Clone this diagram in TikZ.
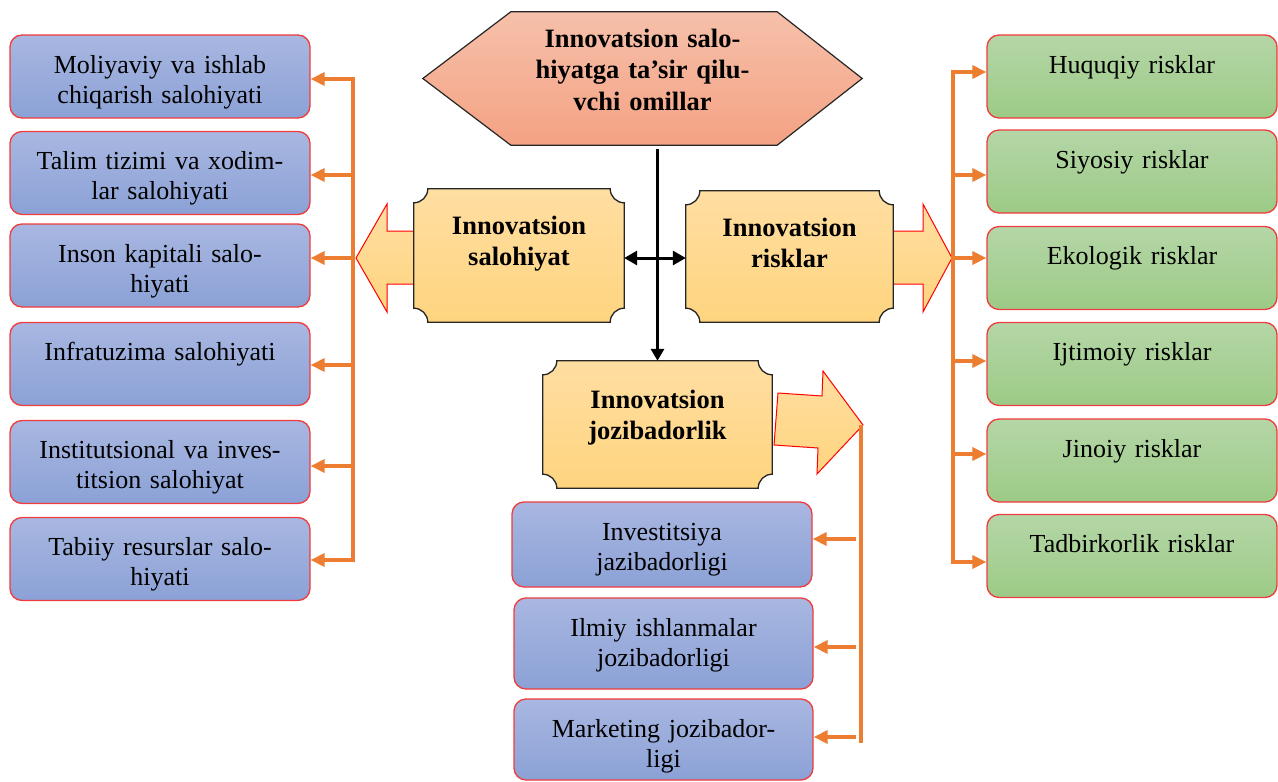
\documentclass[tikz,border=0pt]{standalone}
\usepackage{fontspec}
\setmainfont{Liberation Serif}
\usetikzlibrary{arrows.meta}
\pgfdeclarelayer{background}
\pgfsetlayers{background,main}
\definecolor{blueT}{HTML}{A9B7E1}
\definecolor{blueB}{HTML}{8BA1D6}
\definecolor{greenT}{HTML}{B5D6A7}
\definecolor{greenB}{HTML}{9CCB86}
\definecolor{goldT}{HTML}{FFDEA2}
\definecolor{goldB}{HTML}{FED47E}
\definecolor{salT}{HTML}{F6C0AA}
\definecolor{salB}{HTML}{F4A283}
\definecolor{oline}{HTML}{ED7D31}
\definecolor{bred}{HTML}{F03C3C}
\definecolor{dgray}{HTML}{262626}
\newcommand\regfont{\fontsize{26}{30}\selectfont}
\newcommand\bldfont{\fontsize{26.5}{31.5}\selectfont\bfseries}
\newcommand\plaqueshape[1]{%
 \path[plaquefill] ([xshift=14pt]#1.north west) -- ([xshift=-14pt]#1.north east)
 .. controls ([xshift=-14pt,yshift=-7.7pt]#1.north east) and ([xshift=-7.7pt,yshift=-14pt]#1.north east) .. ([yshift=-14pt]#1.north east)
 -- ([yshift=14pt]#1.south east)
 .. controls ([xshift=-7.7pt,yshift=14pt]#1.south east) and ([xshift=-14pt,yshift=7.7pt]#1.south east) .. ([xshift=-14pt]#1.south east)
 -- ([xshift=14pt]#1.south west)
 .. controls ([xshift=14pt,yshift=7.7pt]#1.south west) and ([xshift=7.7pt,yshift=14pt]#1.south west) .. ([yshift=14pt]#1.south west)
 -- ([yshift=-14pt]#1.north west)
 .. controls ([xshift=7.7pt,yshift=-14pt]#1.north west) and ([xshift=14pt,yshift=-7.7pt]#1.north west) .. cycle;}
\tikzset{
 box/.style={draw=bred, line width=1.3pt, rounded corners=12pt, inner sep=0pt, align=center, text height=38pt, text depth=45pt, font=\regfont},
 bluebox/.style={box, top color=blueT, bottom color=blueB, text width=300pt},
 greenbox/.style={box, top color=greenT, bottom color=greenB, text width=290pt},
 plaquetext/.style={inner sep=0pt, align=center, font=\bldfont},
 plaquefill/.style={draw=dgray, line width=1.3pt, top color=goldT, bottom color=goldB},
 hexfill/.style={draw=dgray, line width=1.2pt, top color=salT, bottom color=salB},
 blockarrow/.style={draw=red, line width=1pt, top color=goldT, bottom color=goldB},
 oconn/.style={draw=oline, line width=4pt},
 oarrow/.style={oconn, -{Triangle[length=14pt,width=13pt]}},
 bconn/.style={draw=black, line width=3pt},
}
\begin{document}
\begin{tikzpicture}[x=1pt,y=-1pt]
\useasboundingbox (0,0) rectangle (1278,782);
% centre nodes
\node[plaquetext, text width=439pt, text height=35pt, text depth=98pt] (top) at (642.5,78.5) {Innovatsion salo-\\hiyatga ta’sir qilu-\\vchi omillar};
\node[plaquetext, text width=210pt, text height=45pt, text depth=88pt] (ps) at (519,255.5) {Innovatsion\\salohiyat};
\node[plaquetext, text width=207pt, text height=45pt, text depth=86pt] (pr) at (789.5,256.5) {Innovatsion\\risklar};
\node[plaquetext, text width=229pt, text height=47pt, text depth=80pt] (jz) at (657.5,424.5) {Innovatsion\\jozibadorlik};
% left boxes
\node[bluebox] (m1) at (160,76.5) {Moliyaviy va ishlab\\chiqarish salohiyati};
\node[bluebox] (m2) at (160,173) {Talim tizimi va xodim-\\lar salohiyati};
\node[bluebox] (m3) at (160,265.5) {Inson kapitali salo-\\hiyati};
\node[bluebox] (m4) at (160,364) {Infratuzima salohiyati};
\node[bluebox] (m5) at (160,462) {Institutsional va inves-\\titsion salohiyat};
\node[bluebox] (m6) at (160,559) {Tabiiy resurslar salo-\\hiyati};
% right boxes
\node[greenbox] (r1) at (1132,76.5) {Huquqiy risklar};
\node[greenbox] (r2) at (1132,171.5) {Siyosiy risklar};
\node[greenbox] (r3) at (1132,268) {Ekologik risklar};
\node[greenbox] (r4) at (1132,364) {Ijtimoiy risklar};
\node[greenbox] (r5) at (1132,460.5) {Jinoiy risklar};
\node[greenbox] (r6) at (1132,556) {Tadbirkorlik risklar};
% bottom boxes
\node[bluebox, text depth=47pt] (b1) at (662,544.5) {Investitsiya\\jazibadorligi};
\node[bluebox, text width=299pt, text depth=53pt] (b2) at (663.5,643.5) {Ilmiy ishlanmalar\\jozibadorligi};
\node[bluebox, text width=299pt, text depth=43pt] (b3) at (663.5,739.5) {Marketing jozibador-\\ligi};
% background shapes
\begin{pgfonlayer}{background}
\path[blockarrow] (356,258) -- (387,204) -- (387,231) -- (417,231) -- (417,284) -- (387,284) -- (387,312) -- cycle;
\path[blockarrow] (893,231) -- (923,231) -- (923,204) -- (952,258) -- (923,312) -- (923,284) -- (893,284) -- cycle;
\path[blockarrow] (778,393) -- (822,396) -- (823,371) -- (863,425) -- (817,474) -- (818,448) -- (774,445) -- cycle;
\path[hexfill] (top.west) -- ([xshift=88pt]top.north west) -- ([xshift=-85pt]top.north east) -- (top.east) -- ([xshift=-85pt]top.south east) -- ([xshift=88pt]top.south west) -- cycle;
\plaqueshape{ps}
\plaqueshape{pr}
\plaqueshape{jz}
\end{pgfonlayer}
% black connectors
\draw[bconn, -{Triangle[length=12pt,width=13pt]}] ([yshift=-4pt]top.south -| jz.north) -- (jz.north);
\draw[bconn, {Triangle[length=13pt,width=14pt]}-{Triangle[length=13pt,width=14pt]}] ([yshift=-2.5pt]ps.east) -- ([yshift=-2.5pt]ps.east -| pr.west);
% left trunk
\coordinate (lt1) at (353,79);
\coordinate (lt2) at (353,175);
\coordinate (lt3) at (353,258);
\coordinate (lt4) at (353,365);
\coordinate (lt5) at (353,466);
\coordinate (lt6) at (353,560);
\draw[oconn, line cap=rect] (lt1) -- (lt6);
\draw[oarrow] (lt1) -- (lt1 -| m1.east);
\draw[oarrow] (lt2) -- (lt2 -| m2.east);
\draw[oarrow] (lt3) -- (lt3 -| m3.east);
\draw[oarrow] (lt4) -- (lt4 -| m4.east);
\draw[oarrow] (lt5) -- (lt5 -| m5.east);
\draw[oarrow] (lt6) -- (lt6 -| m6.east);
% right trunk
\coordinate (rt1) at (953,72);
\coordinate (rt2) at (953,175);
\coordinate (rt3) at (953,258);
\coordinate (rt4) at (953,361);
\coordinate (rt5) at (953,454);
\coordinate (rt6) at (953,562);
\draw[oconn, line cap=rect] (rt1) -- (rt6);
\draw[oarrow] (rt1) -- (rt1 -| r1.west);
\draw[oarrow] (rt2) -- (rt2 -| r2.west);
\draw[oarrow] (rt3) -- (rt3 -| r3.west);
\draw[oarrow] (rt4) -- (rt4 -| r4.west);
\draw[oarrow] (rt5) -- (rt5 -| r5.west);
\draw[oarrow] (rt6) -- (rt6 -| r6.west);
% bottom trunk
\coordinate (bt0) at (861,425);
\coordinate (bt1) at (861,743);
\draw[oconn] (bt0) -- (bt1);
\coordinate (ba1) at (856,539);
\coordinate (ba2) at (856,647);
\coordinate (ba3) at (856,737);
\draw[oarrow] (ba1) -- (ba1 -| b1.east);
\draw[oarrow] (ba2) -- (ba2 -| b2.east);
\draw[oarrow] (ba3) -- (ba3 -| b3.east);
\end{tikzpicture}
\end{document}
